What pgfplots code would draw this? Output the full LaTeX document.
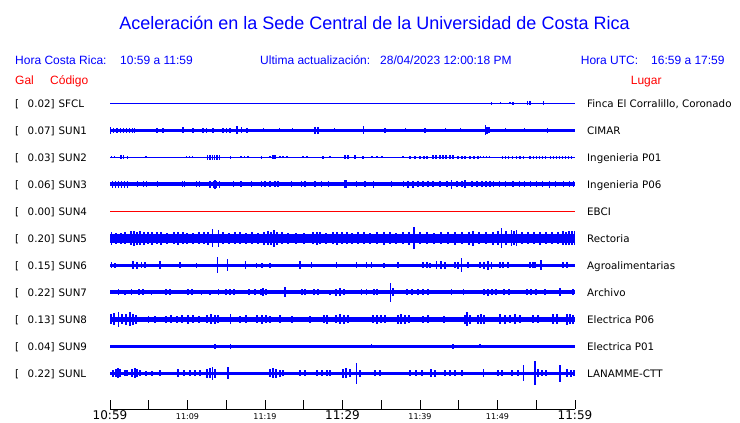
\documentclass[border=0pt]{standalone}
\usepackage{fontspec}
\setmainfont{Liberation Sans}
\newfontfamily\dv{DejaVu Sans}
\usepackage{pgfplots}
\pgfplotsset{compat=1.18}
\definecolor{tb}{RGB}{0,0,255}
\definecolor{tr}{RGB}{255,0,0}
\pgfplotsset{spk/.style={only marks, mark=o, mark size=0pt, mark options={draw=none, fill=none}, error bars/.cd, y dir=both, y explicit, error mark=none, error bar style={draw=tb, line width=1.1pt}}}
\begin{document}
\begin{tikzpicture}
\path[use as bounding box] (0,0) rectangle (740pt,423pt);
\begin{axis}[at={(110pt,14pt)}, anchor=south west, scale only axis,
  width=465pt, height=319pt, xmin=0, xmax=60, ymin=14, ymax=333,
  axis x line*=bottom, axis y line=none, clip=false,
  xtick={0,5,...,60},
  xticklabels={{\dv\fontsize{12}{12}\selectfont 10:59},{},{\dv\fontsize{8}{8}\selectfont 11:09},{},{\dv\fontsize{8}{8}\selectfont 11:19},{},{\dv\fontsize{12}{12}\selectfont 11:29},{},{\dv\fontsize{8}{8}\selectfont 11:39},{},{\dv\fontsize{8}{8}\selectfont 11:49},{},{\dv\fontsize{12}{12}\selectfont 11:59}},
  xticklabel style={anchor=base, yshift=-11pt, inner sep=0pt},
  tick align=inside, major tick length=9pt,
  x axis line style={line width=0.8pt, black},
  tick style={black, line width=0.8pt},
]
% SFCL
\addplot[tb, line width=1.2pt] coordinates {(0,319.7) (60,319.7)};
\addplot[spk] table[x=t, y expr=319.7, y error=e] {
t e
49.25 1.5
50.41 1
51.61 1
52.0 1.5
53.9 2
54.1 2
54.25 2
55.9 2
};
% SUN1
\addplot[tb, line width=3.2pt] coordinates {(0,292.7) (60,292.7)};
\addplot[spk] table[x=t, y expr=292.7, y error=e] {
t e
0.1 3.5
0.5 2.6
0.9 2.6
1.3 2.6
1.7 2.6
2.1 2.6
2.5 2.6
2.9 2.6
3.2 2.6
6.06 2.5
6.84 2.5
9.42 3.2
10.71 2.5
12.0 2.5
12.5 2.5
13.29 2.5
14.58 2.3
15.0 2.3
15.48 2.3
16.39 4
17.0 3
17.68 2.5
19.8 2.2
21.9 2.2
23.6 2.2
26.45 3.5
26.84 3.5
29.0 2.2
32.68 4
35.48 2.5
38.1 2.2
40.65 2.5
43.3 2.2
45.2 2.2
48.45 5
48.65 3.5
48.9 3
51.0 2.2
53.5 2.2
56.5 2.5
};
% SUN2
\addplot[tb, line width=1.2pt] coordinates {(0,265.7) (60,265.7)};
\addplot[spk] table[x=t, y expr=265.7, y error=e] {
t e
0.2 1
0.6 1
1.3 2
1.5 2
1.7 2
2.3 1.5
4.65 1
9.9 1
10.3 1
10.7 1
12.6 2.5
12.9 2.5
13.2 2.5
13.5 2.5
13.8 2.5
14.1 2.5
15.5 1.5
16.8 1.2
16.99 1.2
17.3 1.2
17.8 1.2
19.57 1.5
20.65 1.2
21.03 2
21.29 2
21.94 1.2
22.32 1.2
22.84 1.2
24.90 1.2
25.42 1.2
27.48 1.5
28.39 1.2
30.32 2
30.71 2
31.61 2
32.65 1.5
33.81 1.2
34.45 1.2
35.10 1.2
37.81 1.2
38.71 1.5
39.35 1.5
40.0 1.5
40.52 1.5
40.90 1.5
41.68 2
42.06 2
42.58 2
42.97 2
43.35 2
43.87 2
44.26 2
44.90 1.5
45.42 1.5
45.81 1.5
46.45 1.5
46.97 1.5
47.48 1.5
47.8 1.2
48.2 1.2
48.6 1.2
49.0 1.2
50.6 1.3
51.0 1.3
51.4 1.3
51.9 1.3
52.5 1.3
52.9 1.3
53.3 1.3
54.2 1.3
54.6 1.3
55.0 1.3
55.4 1.3
55.8 1.3
56.2 1.3
56.8 1.5
57.2 1.5
57.6 1.5
58.0 1.5
58.4 1.5
58.8 1.5
59.2 1.5
59.6 1.5
};
% SUN3
\addplot[tb, line width=3.6pt] coordinates {(0,238.7) (60,238.7)};
\addplot[spk] table[x=t, y expr=238.7, y error=e] {
t e
0.3 3.3
0.7 3.3
1.1 3.3
1.5 3.3
1.9 3.3
2.3 3.3
3.5 3
4.3 3
4.7 3
6.1 3
9.3 3
9.6 3
11.2 3
11.6 3
12.9 3.5
13.3 3.5
13.55 4.5
13.7 3.5
14.1 3.5
15.9 3
16.8 3
16.99 3
18.28 3
19.57 3
20.0 3
20.65 3
21.29 3
21.68 3
23.45 3
24.74 3
25.16 3
26.45 3
27.32 3
28.17 3
30.32 4
30.54 4
31.83 3
32.90 3
33.97 3.5
36.35 3
37.84 3
38.45 3.5
39.10 3.5
39.74 3
40.39 3
41.03 3
41.68 3
42.58 3
43.48 3
44.09 4.5
44.77 3
45.42 3
45.81 4
46.71 3
47.35 3
48.0 3
48.52 3
49.03 3
49.5 3
50.3 3
51.0 3
52.0 3
52.8 3
53.5 3
54.3 3
55.0 3
55.8 3
56.7 3.5
57.5 3
58.5 3
59.3 3
59.8 3
};
% SUN4
\addplot[tr, line width=1.2pt] coordinates {(0,211.7) (60,211.7)};
% SUN5
\addplot[tb, line width=8.6pt] coordinates {(0,184.7) (60,184.7)};
\addplot[spk] table[x=t, y expr=184.7, y error=e] {
t e
0.22 6.5
0.77 5.5
1.42 5.5
1.94 6
2.71 7
3.10 7.5
3.48 6.5
3.87 7
4.39 6.5
4.90 6
5.42 6.5
6.06 6
6.58 6.5
7.35 5.5
8.26 6
8.77 6.5
9.42 6
9.94 5.5
10.71 5.5
11.48 6
12.13 6
12.65 6.5
13.25 9
13.97 8.5
14.58 6
15.35 5.5
16.13 6
16.77 6
17.55 5.5
18.32 6
19.10 5.5
19.87 6.5
20.39 7
20.77 6.5
21.16 8.5
21.55 6.5
22.19 6
22.97 5.5
24.00 5.5
25.03 5.5
26.19 6
26.71 6.5
27.10 6
27.87 5.5
28.77 6
29.29 6.5
29.94 6
30.58 6
31.23 5.5
32.00 6
32.77 6
33.55 5.5
34.45 6
35.35 6.5
36.13 6
36.90 5.5
37.81 6
38.58 6.5
39.23 11
40.00 6
40.90 6
41.81 5.5
42.71 6
43.61 6
44.52 6.5
45.42 6
46.32 6.5
46.84 7.5
47.61 6
48.52 6
49.42 6.5
50.06 7
50.54 10
51.10 7
51.83 8
52.13 7
52.48 8
53.16 6
53.94 6
54.71 6
55.48 6.5
56.26 6
57.03 6
57.81 6
58.45 7
58.84 6.5
59.23 7
59.61 7
59.94 7
};
% SUN6
\addplot[tb, line width=3.4pt] coordinates {(0,157.7) (60,157.7)};
\addplot[spk] table[x=t, y expr=157.7, y error=e] {
t e
0.22 3
0.65 2.5
2.97 4
3.48 3.5
4.09 3
4.52 3
6.45 4
9.03 3
11.19 2.5
13.85 8
15.19 6
17.51 4
18.93 2.5
19.61 2.5
20.65 2.5
24.52 4
26.03 3
29.25 3
31.83 3
33.12 3
33.76 3
35.35 2.5
37.16 3
40.39 3
40.90 3
41.29 2.5
42.15 4
42.71 4
43.23 3.5
44.52 3
44.90 3.5
45.38 7
46.19 3
47.74 3
48.26 3.5
48.77 4.5
49.25 3.5
50.32 3
50.71 3
51.35 3
54.19 3
54.58 3
54.84 3
55.61 5
58.45 3
58.97 3
};
% SUN7
\addplot[tb, line width=3.6pt] coordinates {(0,130.7) (60,130.7)};
\addplot[spk] table[x=t, y expr=130.7, y error=e] {
t e
1.07 3
1.94 2.5
2.80 3
3.74 3
4.26 3
5.38 2.5
7.23 3
7.74 3
10.06 3
10.58 3
11.83 2.5
12.90 2.5
13.97 3
14.97 3
15.48 3
16.00 3
17.94 3
18.71 3
19.48 3
19.74 4
20.13 3
22.58 5
24.77 3
25.16 3
26.32 3
26.84 3
28.39 2.5
29.16 3.5
29.68 4
30.19 3
32.48 3
33.12 3
34.06 3
34.45 3
36.22 9.5
36.52 4
38.32 3
38.97 3
39.74 3
40.39 3
41.03 3
44.09 3
45.59 3
48.26 3
48.77 3.5
49.29 3
49.81 3
50.84 3
51.48 3
53.81 3
54.32 3
54.97 3
56.13 3
58.06 4
59.74 3
};
% SUN8
\addplot[tb, line width=5pt] coordinates {(0,103.7) (60,103.7)};
\addplot[spk] table[x=t, y expr=103.7, y error=e] {
t e
0.13 5
0.52 6
1.07 7.5
1.55 5
2.06 5.5
2.58 7
2.97 5.5
3.35 4.5
4.94 3.5
5.81 3.5
7.23 3.5
7.87 4
8.65 3.5
9.29 4
10.06 4.5
10.71 4
11.48 3.5
12.52 4
13.03 5
13.55 4.5
13.94 4
15.57 5
16.77 3.5
17.55 4
18.97 4
19.61 4.5
20.13 4
20.65 3.5
21.94 4
23.48 3.5
25.81 3.5
27.61 4
28.00 4.5
29.16 4
29.68 5
30.19 4.5
30.71 4
33.94 4
34.45 4.5
34.97 4
35.48 4
37.16 4.5
37.55 5
38.06 4.5
38.58 4
40.39 3.5
41.03 4
43.10 3.5
45.81 4.5
46.06 7
46.45 4.5
47.48 4.5
47.87 5
48.26 4.5
50.32 5
50.97 4.5
51.61 4
52.26 5
52.90 4
54.58 4
55.23 4
57.16 5
57.68 5
58.97 5.5
59.35 5
59.74 4.5
};
% SUN9
\addplot[tb, line width=2.8pt] coordinates {(0,76.7) (60,76.7)};
\addplot[spk] table[x=t, y expr=76.7, y error=e] {
t e
13.55 2.3
15.57 2.3
33.76 2
44.26 2.3
47.74 2
};
% SUNL
\addplot[tb, line width=3.4pt] coordinates {(0,49.7) (60,49.7)};
\addplot[spk] table[x=t, y expr=49.7, y error=e] {
t e
0.39 3.5
0.77 4
1.03 5
1.29 4
1.94 3
2.19 3
2.84 4
3.23 5
3.48 4
3.87 3
4.65 2.5
5.42 2.5
6.45 3
8.77 4
9.55 3
10.32 3
10.97 3
11.61 3
12.52 4.5
12.90 5
13.25 6.5
13.55 4.5
15.23 6
20.65 4
21.03 5
21.42 4.5
21.94 3.5
22.32 3
24.52 3
25.16 3
26.71 3
27.35 3
28.00 3
28.39 3
30.06 4.5
30.45 5
30.97 4
31.83 10.5
32.26 3.5
34.19 3
34.84 3
38.71 3
39.48 3
40.26 3
41.42 4
41.94 3.5
43.23 3
43.87 3
44.52 3
45.42 3
48.17 4
50.06 3
50.58 3
51.87 3
52.65 3
53.33 8
54.84 12
55.23 4
55.74 3
56.26 3
58.06 8.5
58.97 4
59.48 3.5
59.87 3
};
\end{axis}
\begin{scope}[shift={(0,423pt)}, x={(1pt,0)}, y={(0,-1pt)}]
\node[anchor=base, text=tb, inner sep=0pt, font=\fontsize{18}{20}\selectfont] at (374.5,30) {Aceleración en la Sede Central de la Universidad de Costa Rica};
\begin{scope}[every node/.style={anchor=base west, inner sep=0pt, font=\fontsize{12}{14}\selectfont}]
\node[text=tb] at (15,65) {Hora Costa Rica:};
\node[text=tb] at (120,65) {10:59 a 11:59};
\node[text=tb] at (260,65) {Ultima actualización:};
\node[text=tb] at (380,65) {28/04/2023 12:00:18 PM};
\node[text=tb] at (580.7,65) {Hora UTC:};
\node[text=tb] at (651,65) {16:59 a 17:59};
\node[text=tr] at (15,84.5) {Gal};
\node[text=tr] at (50,84.5) {Código};
\node[text=tr] at (630.7,84.5) {Lugar};
\end{scope}
\begin{scope}[every node/.style={anchor=base west, inner sep=0pt, font=\dv\fontsize{10.3}{12}\selectfont}]
\foreach \v/\c/\l [count=\i from 0] in {0.02/SFCL/{Finca El Corralillo, Coronado}, 0.07/SUN1/CIMAR, 0.03/SUN2/Ingenieria P01, 0.06/SUN3/Ingenieria P06, 0.00/SUN4/EBCI, 0.20/SUN5/Rectoria, 0.15/SUN6/Agroalimentarias, 0.22/SUN7/Archivo, 0.13/SUN8/Electrica P06, 0.04/SUN9/Electrica P01, 0.22/SUNL/LANAMME-CTT} {
  \pgfmathsetmacro{\yy}{103.3+27*\i+3.8}
  \node at (15,\yy) {[};
  \node at (27.5,\yy) {\v]};
  \node at (58.5,\yy) {\c};
  \node at (587,\yy) {\l};
}
\end{scope}
\end{scope}
\end{tikzpicture}
\end{document}
